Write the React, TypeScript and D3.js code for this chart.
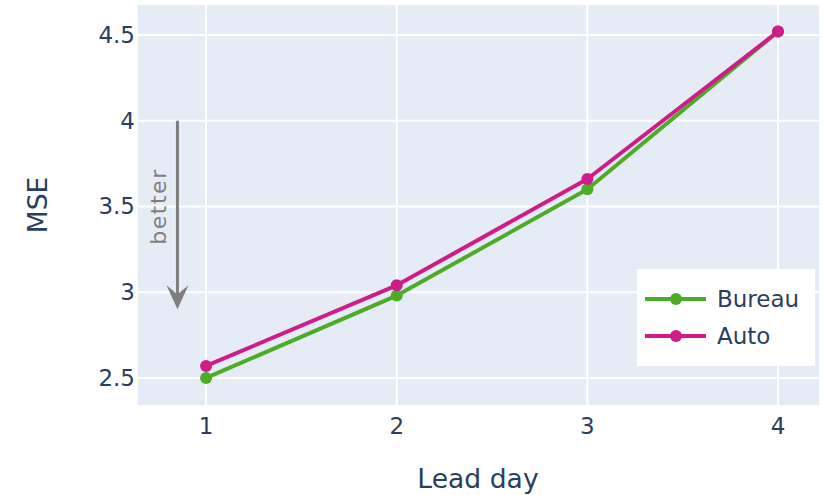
import React from "react";
import * as d3 from "d3";

const leadDays = [1, 2, 3, 4];
const bureau = [2.5, 2.98, 3.6, 4.52];
const auto = [2.57, 3.04, 3.66, 4.52];
const yTicks = [2.5, 3, 3.5, 4, 4.5];
const seriesNames = ["Bureau", "Auto"];
const seriesColors = ["#4dac26", "#d01c8b"];

const width = 823,
  height = 495;
const plot = { left: 138, right: 819, top: 5, bottom: 405 };
const font = "'DejaVu Sans', Verdana, sans-serif";
const textColor = "#2a3f5f";

const App = () => {
  const x = d3.scaleLinear().domain([0.643, 4.215]).range([plot.left, plot.right]);
  const y = d3.scaleLinear().domain([2.342, 4.675]).range([plot.bottom, plot.top]);

  const line = d3
    .line<number>()
    .x((d, i) => x(leadDays[i]))
    .y((d) => y(d));

  const series = [bureau, auto];

  // annotation arrow ("better"), in data coords
  const ax = x(0.85);
  const ay0 = y(4.0);
  const ay1 = y(2.9);

  return (
    <div style={{ position: "absolute", left: 0, top: 0 }}>
      <svg width={width} height={height} style={{ display: "block", background: "#fff" }}>
        <rect
          x={plot.left}
          y={plot.top}
          width={plot.right - plot.left}
          height={plot.bottom - plot.top}
          fill="#e5ecf6"
        />
        <g stroke="#fff" strokeWidth={2}>
          {leadDays.map((d) => (
            <line key={`gx${d}`} x1={x(d)} x2={x(d)} y1={plot.top} y2={plot.bottom} />
          ))}
          {yTicks.map((t) => (
            <line key={`gy${t}`} x1={plot.left} x2={plot.right} y1={y(t)} y2={y(t)} />
          ))}
        </g>

        <g fontFamily={font} fontSize={23} fill={textColor}>
          {yTicks.map((t) => (
            <text key={`ty${t}`} x={135} y={y(t) + 8} textAnchor="end">
              {t}
            </text>
          ))}
          {leadDays.map((d) => (
            <text key={`tx${d}`} x={x(d)} y={434} textAnchor="middle">
              {d}
            </text>
          ))}
        </g>

        <text x={478} y={488} textAnchor="middle" fontFamily={font} fontSize={26.6} fill={textColor}>
          Lead day
        </text>
        <text
          transform={`translate(47,205) rotate(-90)`}
          textAnchor="middle"
          fontFamily={font}
          fontSize={26.6}
          fill={textColor}
        >
          MSE
        </text>

        {/* annotation */}
        <line x1={ax} x2={ax} y1={ay0} y2={ay1 - 8} stroke="#7f7f7f" strokeWidth={3} />
        <path
          d={`M${ax - 11},${ay1 - 24} L${ax},${ay1} L${ax + 11},${ay1 - 24} L${ax},${ay1 - 15} Z`}
          fill="#7f7f7f"
        />
        <text
          transform={`translate(166,${y(3.5)}) rotate(-90)`}
          textAnchor="middle"
          fontFamily={font}
          fontSize={22}
          letterSpacing={1.5}
          fill="#7f7f7f"
        >
          better
        </text>

        {series.map((s, k) => (
          <g key={seriesNames[k]}>
            <path d={line(s) || ""} fill="none" stroke={seriesColors[k]} strokeWidth={4} strokeLinejoin="round" />
            {s.map((v, i) => (
              <circle key={i} cx={x(leadDays[i])} cy={y(v)} r={6} fill={seriesColors[k]} />
            ))}
          </g>
        ))}

        {/* legend */}
        <rect x={637} y={269} width={178} height={97} fill="#fff" />
        {seriesNames.map((n, k) => {
          const ly = 299 + k * 37;
          return (
            <g key={n}>
              <line x1={645} x2={706} y1={ly} y2={ly} stroke={seriesColors[k]} strokeWidth={4} />
              <circle cx={676} cy={ly} r={6} fill={seriesColors[k]} />
              <text x={717} y={ly + 8} fontFamily={font} fontSize={23} fill={textColor}>
                {n}
              </text>
            </g>
          );
        })}
      </svg>
    </div>
  );
};

export default App;
